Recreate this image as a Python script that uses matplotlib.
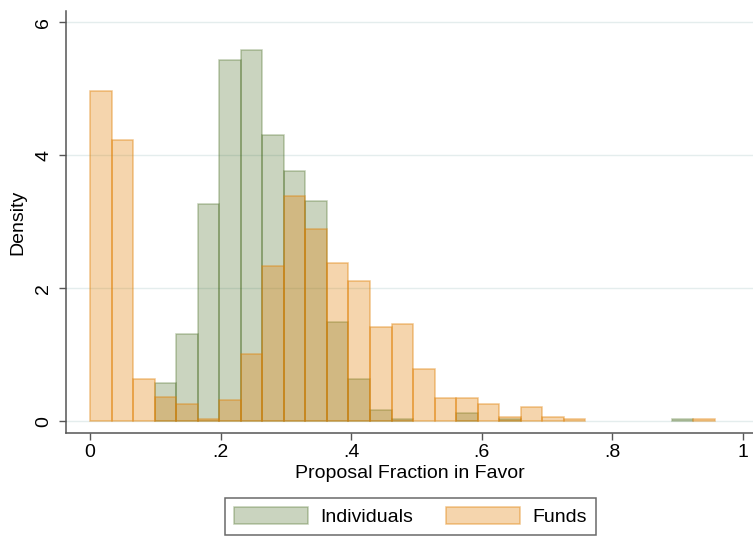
import numpy as np
import matplotlib
matplotlib.use("Agg")
import matplotlib.pyplot as plt

plt.rcParams['font.family'] = ['Liberation Sans', 'DejaVu Sans']

# histogram bins (common width for both groups)
bin_width = 0.033
bin_edges = np.arange(30) * bin_width

# densities per bin
individuals = [0, 0, 0, 0.58, 1.31, 3.27, 5.44, 5.58, 4.31, 3.76,
               3.31, 1.50, 0.63, 0.17, 0.03, 0, 0, 0.13, 0, 0.035,
               0, 0, 0, 0, 0, 0, 0, 0.035, 0]
funds = [4.97, 4.23, 0.64, 0.36, 0.26, 0.03, 0.32, 1.01, 2.34, 3.39,
         2.89, 2.385, 2.11, 1.42, 1.46, 0.78, 0.355, 0.35, 0.265, 0.07,
         0.215, 0.07, 0.035, 0, 0, 0, 0, 0, 0.035]

xticks = [0, 0.2, 0.4, 0.6, 0.8, 1.0]
xticklabels = ['0', '.2', '.4', '.6', '.8', '1']
yticks = [0, 2, 4, 6]

green = (47/255, 87/255, 3/255)
orange = (224/255, 127/255, 2/255)

fig = plt.figure(figsize=(7.53, 5.39), dpi=100)
ax = fig.add_axes([66/753, 1 - 433/539, 1 - 66/753, (433 - 11)/539])

def draw(heights, rgb, fa, ea, label):
    h = np.array(heights, dtype=float)
    left = bin_edges[:-1]
    m = h > 0
    return ax.bar(left[m], h[m], width=bin_width, align='edge',
                  facecolor=(*rgb, fa), edgecolor=(*rgb, ea),
                  linewidth=1.1, zorder=3, label=label)

draw(individuals, green, 0.25, 0.3, 'Individuals')
draw(funds, orange, 0.32, 0.45, 'Funds')

ax.set_xlim((66 - 90) / 652.7, (753 - 90) / 652.7)
ax.set_ylim((421.3 - 433) / 66.5, (421.3 - 11) / 66.5)

ax.set_xticks(xticks)
ax.set_xticklabels(xticklabels)
ax.set_yticks(yticks)
ax.set_yticklabels([str(t) for t in yticks], rotation=90, va='center')

ax.grid(axis='y', color='#E4EDED', linewidth=1.0, zorder=0)
ax.set_axisbelow(True)

for s in ['top', 'right']:
    ax.spines[s].set_visible(False)
for s in ['left', 'bottom']:
    ax.spines[s].set_color('#555555')
    ax.spines[s].set_linewidth(1.1)

ax.tick_params(axis='both', length=5, width=1.0, color='#555555',
               labelsize=14, labelcolor='black')
ax.tick_params(axis='x', pad=3)
ax.tick_params(axis='y', pad=5)

ax.set_xlabel('Proposal Fraction in Favor', fontsize=14, labelpad=3)
ax.set_ylabel('Density', fontsize=14, labelpad=6)

leg = ax.legend(loc='upper center', bbox_to_anchor=(410.5/753, 1 - 498/539),
                bbox_transform=fig.transFigure, ncol=2, fontsize=14,
                frameon=True, fancybox=False, borderaxespad=0,
                handlelength=3.8, handleheight=1.0, handletextpad=0.65,
                columnspacing=1.7, borderpad=0.45)
leg.get_frame().set_edgecolor('#444444')
leg.get_frame().set_linewidth(1.1)

fig.savefig('out.png', dpi=100)
